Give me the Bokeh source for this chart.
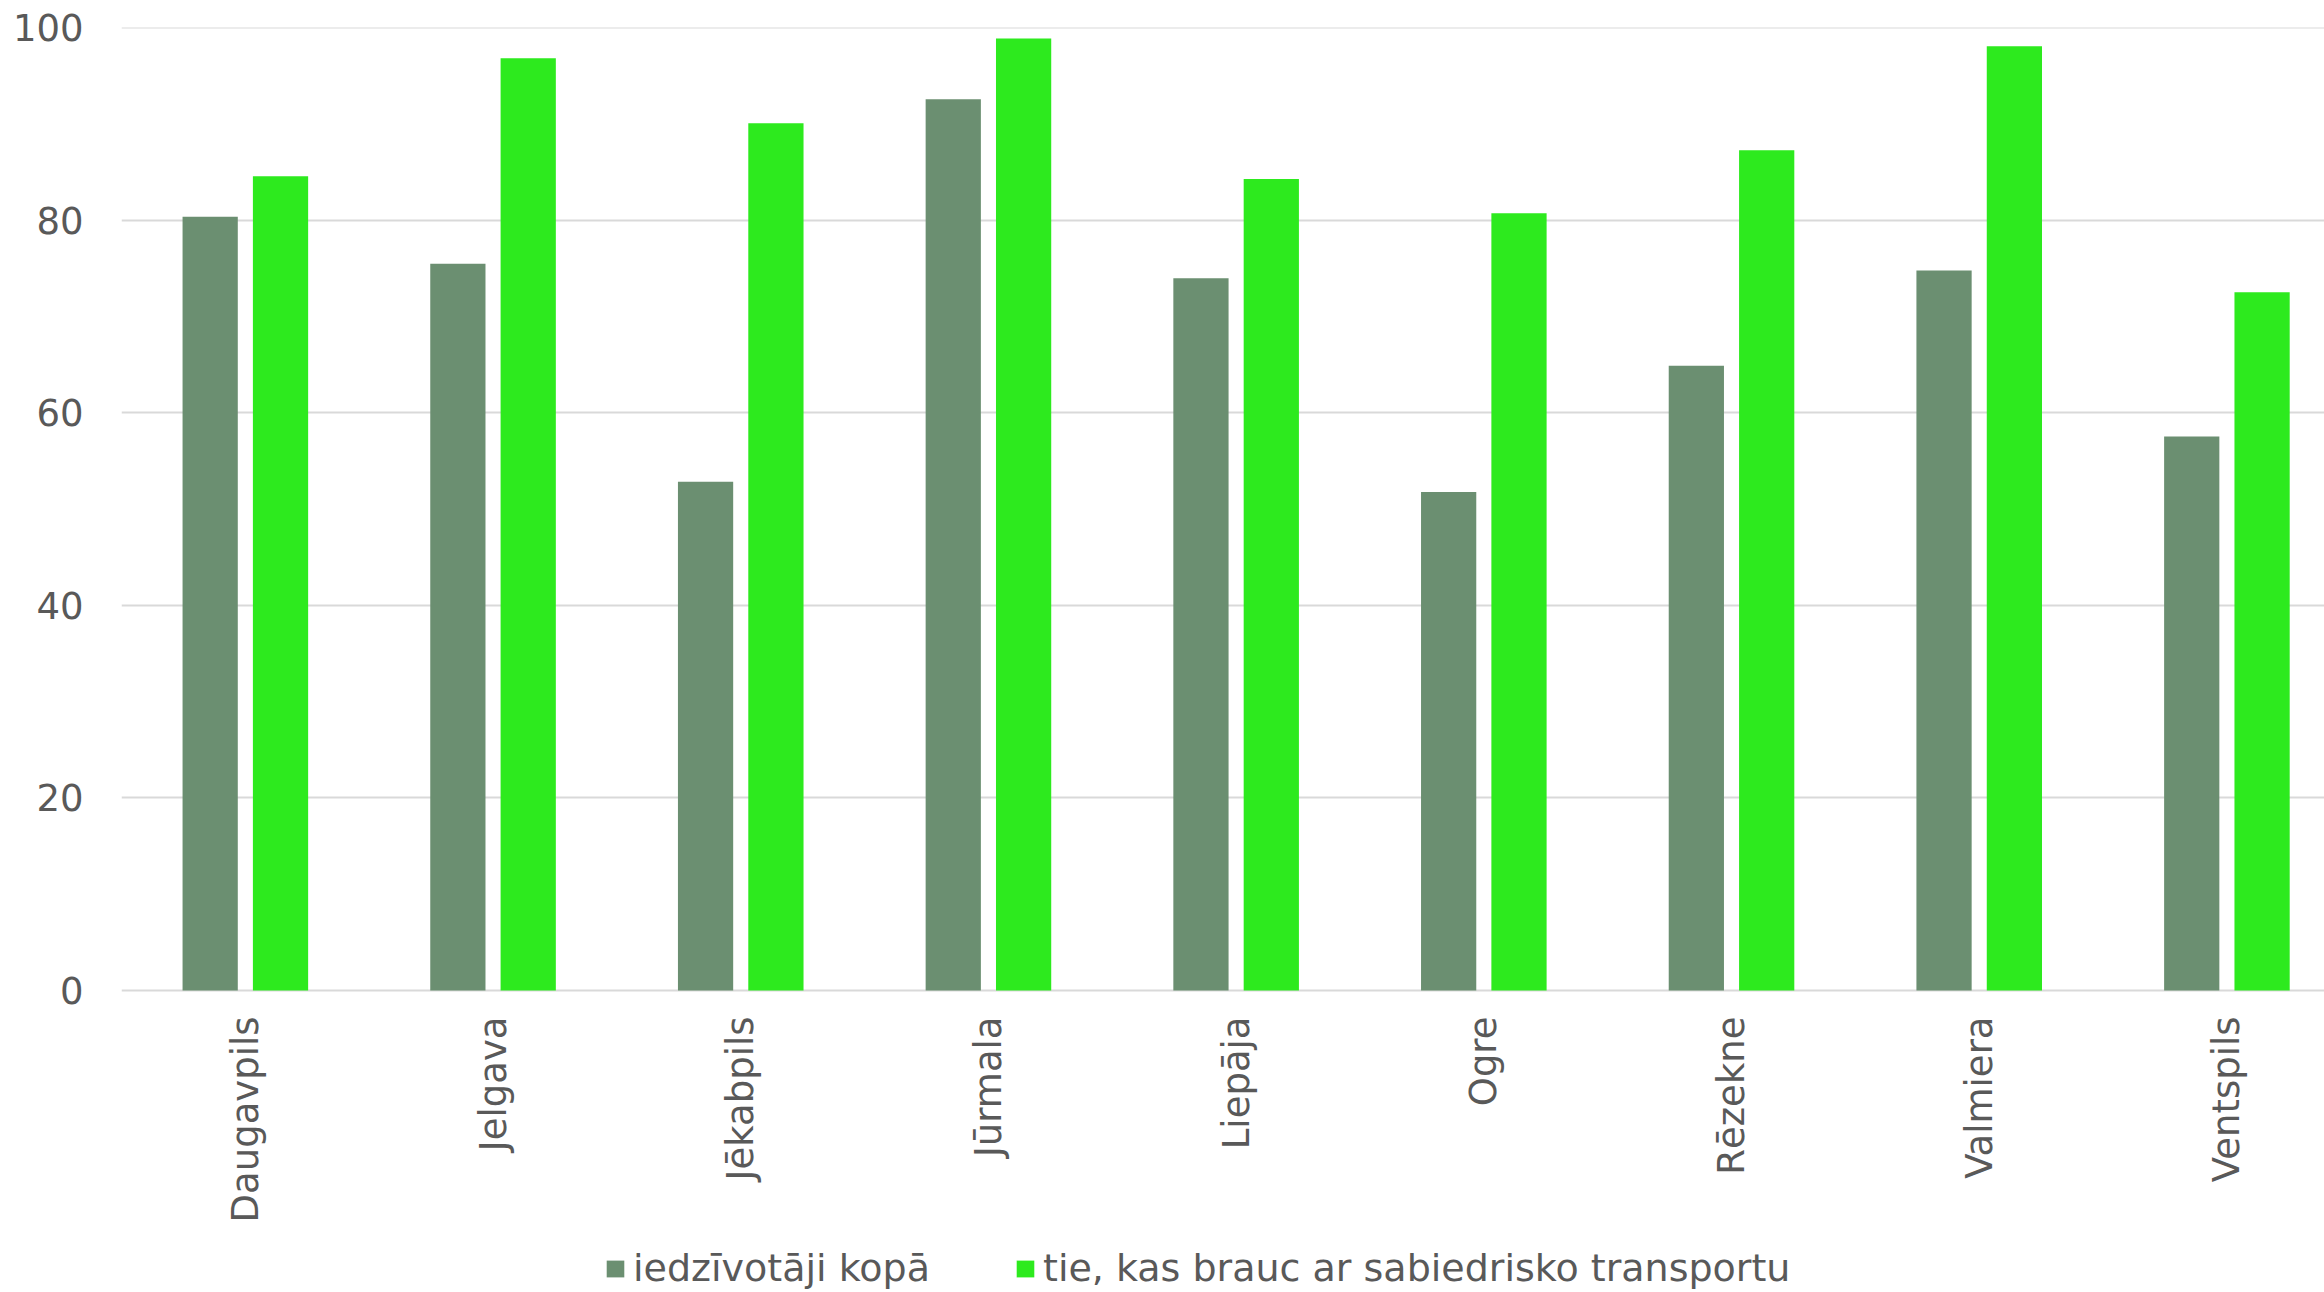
from bokeh.plotting import figure
from bokeh.models import ColumnDataSource, Legend, LegendItem, FixedTicker, Range1d
from bokeh.transform import dodge
from bokeh.embed import file_html
from bokeh.resources import INLINE
import math

cities = ["Daugavpils", "Jelgava", "Jēkabpils", "Jūrmala", "Liepāja",
          "Ogre", "Rēzekne", "Valmiera", "Ventspils"]
total = [80.4, 75.5, 52.85, 92.6, 74.0, 51.8, 64.9, 74.8, 57.55]
transit = [84.6, 96.85, 90.1, 98.9, 84.3, 80.75, 87.3, 98.1, 72.55]
series_names = ["iedzīvotāji kopā", "tie, kas brauc ar sabiedrisko transportu"]
y_ticks = [0, 20, 40, 60, 80, 100]

DARK = "#6B8F71"
GREEN = "#2DEA1E"
TXT = "#595959"
FONT = "DejaVu Sans"

# category slots: each city occupies one unit, centred at i + 0.5
pos = [i + 0.5 for i in range(len(cities))]
src = ColumnDataSource(dict(pos=pos, city=cities, total=total, transit=transit))

# the last category slot runs past the right edge of the picture, as in the original
p = figure(x_range=Range1d(0, 8.894), y_range=Range1d(-31.38, 100.05),
           width=2324, height=1292,
           output_backend="svg", toolbar_location=None,
           min_border_left=121, min_border_right=0, min_border_top=27,
           min_border_bottom=0)
p.outline_line_color = None
p.background_fill_color = "white"
p.border_fill_color = "white"

r1 = p.vbar(x=dodge("pos", -0.142), top="total", bottom=0,
            width=0.223, source=src, color=DARK, line_color=None)
r2 = p.vbar(x=dodge("pos", 0.142), top="transit", bottom=0,
            width=0.223, source=src, color=GREEN, line_color=None)

p.xgrid.grid_line_color = None
p.ygrid.grid_line_color = "#D9D9D9"
p.ygrid.grid_line_width = 2
p.ygrid.level = "underlay"

p.yaxis.ticker = FixedTicker(ticks=y_ticks)
p.yaxis.axis_line_color = None
p.yaxis.major_tick_line_color = None
p.yaxis.minor_tick_line_color = None
p.yaxis.major_tick_out = 0
p.yaxis.major_label_standoff = 38
p.yaxis.major_label_text_font = FONT
p.yaxis.major_label_text_font_size = "37px"
p.yaxis.major_label_text_color = TXT

p.xaxis.ticker = FixedTicker(ticks=pos)
p.xaxis.major_label_overrides = {x: c for x, c in zip(pos, cities)}
p.xaxis.fixed_location = 0
p.xaxis.axis_line_color = None
p.xaxis.major_tick_line_color = None
p.xaxis.minor_tick_line_color = None
p.xaxis.major_tick_out = 0
p.xaxis.major_tick_in = 0
p.xaxis.major_label_orientation = math.pi / 2
p.xaxis.major_label_standoff = 26
p.xaxis.major_label_text_font = FONT
p.xaxis.major_label_text_font_size = "37px"
p.xaxis.major_label_text_color = TXT

legend = Legend(items=[LegendItem(label=series_names[0], renderers=[r1]),
                       LegendItem(label=series_names[1], renderers=[r2])],
                orientation="horizontal", location=(483, 2),
                glyph_width=22, glyph_height=21, label_standoff=7, spacing=84,
                padding=0, margin=0, border_line_color=None,
                background_fill_alpha=0,
                label_text_font=FONT, label_text_font_size="38px",
                label_text_color=TXT)
p.add_layout(legend, "center")

open("out.html", "w").write(file_html(p, INLINE))
